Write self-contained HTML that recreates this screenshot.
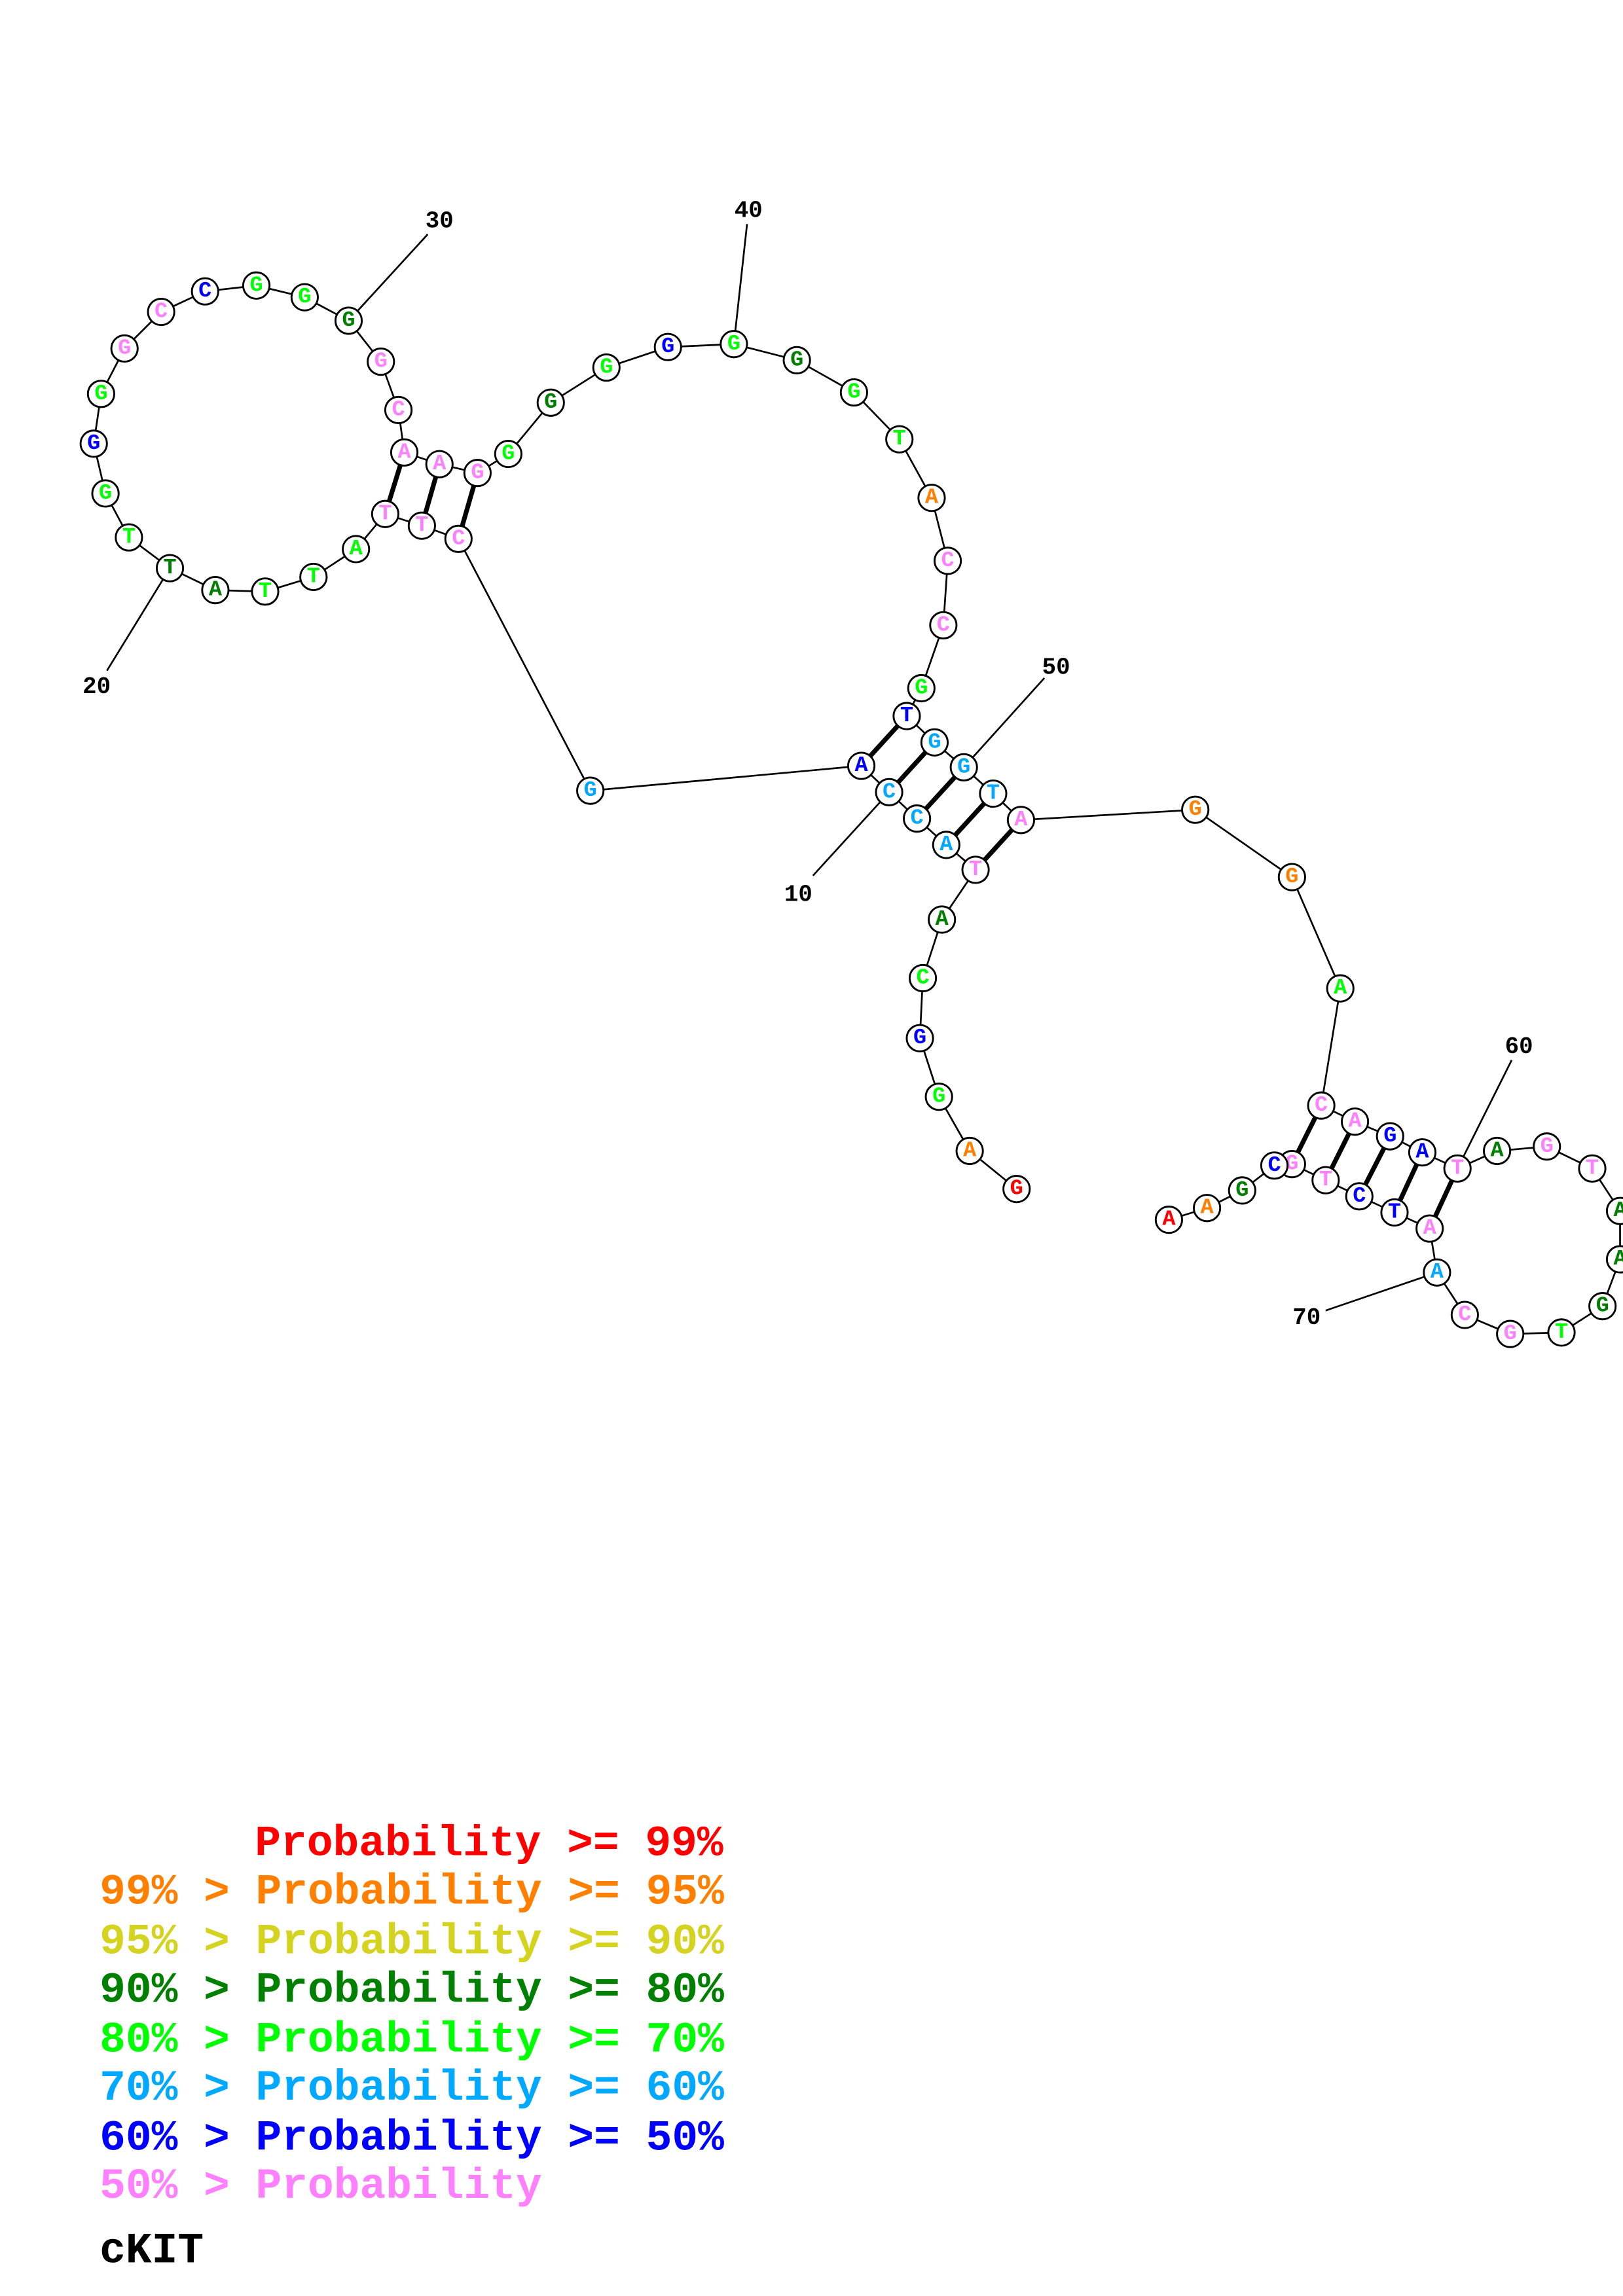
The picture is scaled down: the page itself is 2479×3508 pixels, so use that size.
<!DOCTYPE html>
<html><head><meta charset="utf-8"><style>
html,body{margin:0;padding:0;background:#fff;}
svg{display:block;}
.n circle{fill:#fff;stroke:#000;stroke-width:1.3;}
.n text{font-family:"Liberation Mono",monospace;font-weight:bold;font-size:15px;text-anchor:middle;dominant-baseline:central;}
.lb{font-family:"Liberation Mono",monospace;font-weight:bold;font-size:16px;text-anchor:middle;dominant-baseline:central;fill:#000;}
.lg{font-family:"Liberation Mono",monospace;font-weight:bold;font-size:29.6px;white-space:pre;}
</style></head><body>
<svg width="2479" height="3508" viewBox="0 0 1108 1568" preserveAspectRatio="none" xmlns="http://www.w3.org/2000/svg">
<rect width="1108" height="1568" fill="#fff"/>
<g stroke="#000" stroke-width="1.2" fill="none">
<polyline points="694,812 662,786 641,749 628,709 630,668 643,628 666,594 646,577 626,559 607,541 588,523 403,540 313,368 288,359 263,351 243,375 214,394 181,404 147,403 116,388 88,367 72,337 64,303 69,269 85,238 110,213 140,199 175,195 208,203 238,219 260,247 272,280 276,309 300,317 326,323 347,310 376,275 414,251 456,237 501,235 544,246 583,268 614,300 636,340 647,383 644,427 629,470 619,489 638,507 658,524 678,542 697,560 816,553 882,599 915,675 902,755 925,766 949,776 971,787 995,798 1022,786 1056,783 1087,798 1106,827 1106,860 1094,892 1066,910 1031,911 1000,898 981,869 976,839 952,828 928,817 905,806 882,795 870,796 848,813 824,825 798,833"/>
<line x1="238" y1="219" x2="292" y2="160"/>
<line x1="501" y1="235" x2="510" y2="153"/>
<line x1="116" y1="388" x2="73" y2="458"/>
<line x1="607" y1="541" x2="555" y2="598"/>
<line x1="658" y1="524" x2="713" y2="463"/>
<line x1="995" y1="798" x2="1032" y2="724"/>
<line x1="981" y1="869" x2="905" y2="895"/>
</g>
<g stroke="#000" stroke-width="3.2">
<line x1="619" y1="489" x2="588" y2="523"/>
<line x1="638" y1="507" x2="607" y2="541"/>
<line x1="658" y1="524" x2="626" y2="559"/>
<line x1="678" y1="542" x2="646" y2="577"/>
<line x1="697" y1="560" x2="666" y2="594"/>
<line x1="276" y1="309" x2="263" y2="351"/>
<line x1="300" y1="317" x2="288" y2="359"/>
<line x1="326" y1="323" x2="313" y2="368"/>
<line x1="902" y1="755" x2="882" y2="795"/>
<line x1="925" y1="766" x2="905" y2="806"/>
<line x1="949" y1="776" x2="928" y2="817"/>
<line x1="971" y1="787" x2="952" y2="828"/>
<line x1="995" y1="798" x2="976" y2="839"/>
</g>
<g class="lb">
<text x="300" y="151">30</text><text x="511" y="144">40</text><text x="66" y="469">20</text>
<text x="545" y="611">10</text><text x="721" y="456">50</text><text x="1037" y="715">60</text><text x="892" y="900">70</text>
</g>
<g class="n">
<g transform="translate(694,812)"><circle r="9"/><text fill="#ff0000">G</text></g>
<g transform="translate(662,786)"><circle r="9"/><text fill="#ff8000">A</text></g>
<g transform="translate(641,749)"><circle r="9"/><text fill="#00ff00">G</text></g>
<g transform="translate(628,709)"><circle r="9"/><text fill="#0000ff">G</text></g>
<g transform="translate(630,668)"><circle r="9"/><text fill="#00ff00">C</text></g>
<g transform="translate(643,628)"><circle r="9"/><text fill="#008000">A</text></g>
<g transform="translate(666,594)"><circle r="9"/><text fill="#ff80ff">T</text></g>
<g transform="translate(646,577)"><circle r="9"/><text fill="#00a8ff">A</text></g>
<g transform="translate(626,559)"><circle r="9"/><text fill="#00a8ff">C</text></g>
<g transform="translate(607,541)"><circle r="9"/><text fill="#00a8ff">C</text></g>
<g transform="translate(588,523)"><circle r="9"/><text fill="#0000ff">A</text></g>
<g transform="translate(403,540)"><circle r="9"/><text fill="#00a8ff">G</text></g>
<g transform="translate(313,368)"><circle r="9"/><text fill="#ff80ff">C</text></g>
<g transform="translate(288,359)"><circle r="9"/><text fill="#ff80ff">T</text></g>
<g transform="translate(263,351)"><circle r="9"/><text fill="#ff80ff">T</text></g>
<g transform="translate(243,375)"><circle r="9"/><text fill="#00ff00">A</text></g>
<g transform="translate(214,394)"><circle r="9"/><text fill="#00ff00">T</text></g>
<g transform="translate(181,404)"><circle r="9"/><text fill="#00ff00">T</text></g>
<g transform="translate(147,403)"><circle r="9"/><text fill="#008000">A</text></g>
<g transform="translate(116,388)"><circle r="9"/><text fill="#008000">T</text></g>
<g transform="translate(88,367)"><circle r="9"/><text fill="#00ff00">T</text></g>
<g transform="translate(72,337)"><circle r="9"/><text fill="#00ff00">G</text></g>
<g transform="translate(64,303)"><circle r="9"/><text fill="#0000ff">G</text></g>
<g transform="translate(69,269)"><circle r="9"/><text fill="#00ff00">G</text></g>
<g transform="translate(85,238)"><circle r="9"/><text fill="#ff80ff">G</text></g>
<g transform="translate(110,213)"><circle r="9"/><text fill="#ff80ff">C</text></g>
<g transform="translate(140,199)"><circle r="9"/><text fill="#0000ff">C</text></g>
<g transform="translate(175,195)"><circle r="9"/><text fill="#00ff00">G</text></g>
<g transform="translate(208,203)"><circle r="9"/><text fill="#00ff00">G</text></g>
<g transform="translate(238,219)"><circle r="9"/><text fill="#008000">G</text></g>
<g transform="translate(260,247)"><circle r="9"/><text fill="#ff80ff">G</text></g>
<g transform="translate(272,280)"><circle r="9"/><text fill="#ff80ff">C</text></g>
<g transform="translate(276,309)"><circle r="9"/><text fill="#ff80ff">A</text></g>
<g transform="translate(300,317)"><circle r="9"/><text fill="#ff80ff">A</text></g>
<g transform="translate(326,323)"><circle r="9"/><text fill="#ff80ff">G</text></g>
<g transform="translate(347,310)"><circle r="9"/><text fill="#00ff00">G</text></g>
<g transform="translate(376,275)"><circle r="9"/><text fill="#008000">G</text></g>
<g transform="translate(414,251)"><circle r="9"/><text fill="#00ff00">G</text></g>
<g transform="translate(456,237)"><circle r="9"/><text fill="#0000ff">G</text></g>
<g transform="translate(501,235)"><circle r="9"/><text fill="#00ff00">G</text></g>
<g transform="translate(544,246)"><circle r="9"/><text fill="#008000">G</text></g>
<g transform="translate(583,268)"><circle r="9"/><text fill="#00ff00">G</text></g>
<g transform="translate(614,300)"><circle r="9"/><text fill="#00ff00">T</text></g>
<g transform="translate(636,340)"><circle r="9"/><text fill="#ff8000">A</text></g>
<g transform="translate(647,383)"><circle r="9"/><text fill="#ff80ff">C</text></g>
<g transform="translate(644,427)"><circle r="9"/><text fill="#ff80ff">C</text></g>
<g transform="translate(629,470)"><circle r="9"/><text fill="#00ff00">G</text></g>
<g transform="translate(619,489)"><circle r="9"/><text fill="#0000ff">T</text></g>
<g transform="translate(638,507)"><circle r="9"/><text fill="#00a8ff">G</text></g>
<g transform="translate(658,524)"><circle r="9"/><text fill="#00a8ff">G</text></g>
<g transform="translate(678,542)"><circle r="9"/><text fill="#00a8ff">T</text></g>
<g transform="translate(697,560)"><circle r="9"/><text fill="#ff80ff">A</text></g>
<g transform="translate(816,553)"><circle r="9"/><text fill="#ff8000">G</text></g>
<g transform="translate(882,599)"><circle r="9"/><text fill="#ff8000">G</text></g>
<g transform="translate(915,675)"><circle r="9"/><text fill="#00ff00">A</text></g>
<g transform="translate(902,755)"><circle r="9"/><text fill="#ff80ff">C</text></g>
<g transform="translate(925,766)"><circle r="9"/><text fill="#ff80ff">A</text></g>
<g transform="translate(949,776)"><circle r="9"/><text fill="#0000ff">G</text></g>
<g transform="translate(971,787)"><circle r="9"/><text fill="#0000ff">A</text></g>
<g transform="translate(995,798)"><circle r="9"/><text fill="#ff80ff">T</text></g>
<g transform="translate(1022,786)"><circle r="9"/><text fill="#008000">A</text></g>
<g transform="translate(1056,783)"><circle r="9"/><text fill="#ff80ff">G</text></g>
<g transform="translate(1087,798)"><circle r="9"/><text fill="#ff80ff">T</text></g>
<g transform="translate(1106,827)"><circle r="9"/><text fill="#008000">A</text></g>
<g transform="translate(1106,860)"><circle r="9"/><text fill="#008000">A</text></g>
<g transform="translate(1094,892)"><circle r="9"/><text fill="#008000">G</text></g>
<g transform="translate(1066,910)"><circle r="9"/><text fill="#00ff00">T</text></g>
<g transform="translate(1031,911)"><circle r="9"/><text fill="#ff80ff">G</text></g>
<g transform="translate(1000,898)"><circle r="9"/><text fill="#ff80ff">C</text></g>
<g transform="translate(981,869)"><circle r="9"/><text fill="#00a8ff">A</text></g>
<g transform="translate(976,839)"><circle r="9"/><text fill="#ff80ff">A</text></g>
<g transform="translate(952,828)"><circle r="9"/><text fill="#0000ff">T</text></g>
<g transform="translate(928,817)"><circle r="9"/><text fill="#0000ff">C</text></g>
<g transform="translate(905,806)"><circle r="9"/><text fill="#ff80ff">T</text></g>
<g transform="translate(882,795)"><circle r="9"/><text fill="#ff80ff">G</text></g>
<g transform="translate(870,796)"><circle r="9"/><text fill="#0000ff">C</text></g>
<g transform="translate(848,813)"><circle r="9"/><text fill="#008000">G</text></g>
<g transform="translate(824,825)"><circle r="9"/><text fill="#ff8000">A</text></g>
<g transform="translate(798,833)"><circle r="9"/><text fill="#ff0000">A</text></g>
</g>
<g class="lg">
<text x="174" y="1267" fill="#ff0000">Probability &gt;= 99%</text>
<text x="68" y="1300" fill="#ff8000">99% &gt; Probability &gt;= 95%</text>
<text x="68" y="1334" fill="#d4d420">95% &gt; Probability &gt;= 90%</text>
<text x="68" y="1367" fill="#008000">90% &gt; Probability &gt;= 80%</text>
<text x="68" y="1401" fill="#00ff00">80% &gt; Probability &gt;= 70%</text>
<text x="68" y="1434" fill="#00a8ff">70% &gt; Probability &gt;= 60%</text>
<text x="68" y="1468" fill="#0000ff">60% &gt; Probability &gt;= 50%</text>
<text x="68" y="1501" fill="#ff80ff">50% &gt; Probability</text>
<text x="68" y="1545" fill="#000">cKIT</text>
</g>
</svg>
</body></html>
